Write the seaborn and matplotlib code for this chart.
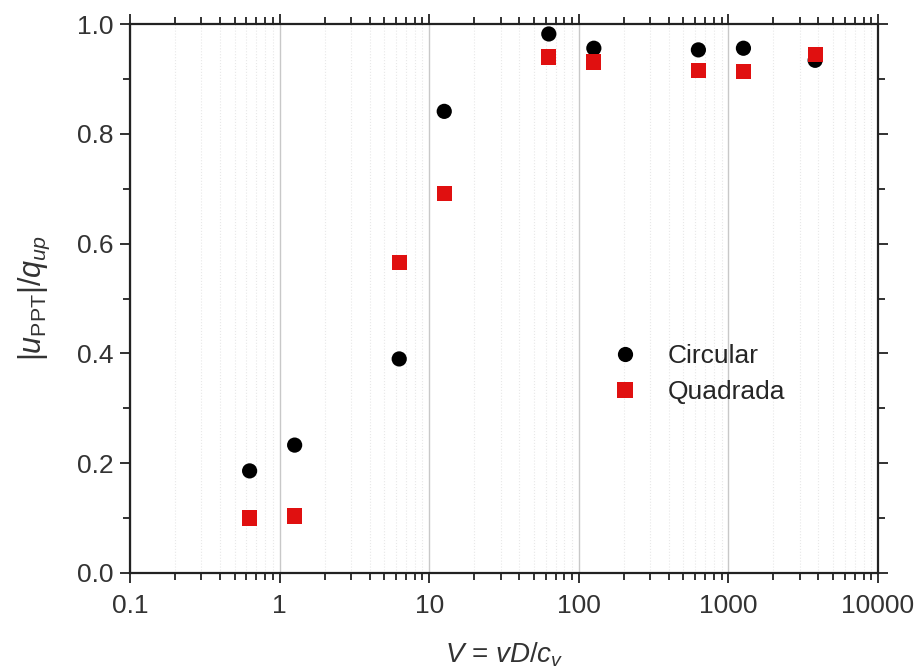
import numpy as np
import pandas as pd
import matplotlib
matplotlib.use("Agg")
import matplotlib.pyplot as plt
from matplotlib.ticker import LogLocator, MultipleLocator, FixedLocator, NullFormatter
import seaborn as sns

# valores
V = [0.63, 1.26, 6.3, 12.6, 63, 126, 630, 1260, 3800]
circular = [0.186, 0.233, 0.390, 0.841, 0.982, 0.956, 0.953, 0.956, 0.934]
quadrada = [0.100, 0.104, 0.565, 0.692, 0.940, 0.931, 0.916, 0.914, 0.944]

df = pd.DataFrame({
    "V": V + V,
    "u": circular + quadrada,
    "Forma": ["Circular"] * len(V) + ["Quadrada"] * len(V),
})

sns.set_style("ticks")
plt.rcParams["font.family"] = ["Liberation Sans", "DejaVu Sans"]
plt.rcParams["mathtext.fontset"] = "custom"
plt.rcParams["mathtext.rm"] = "Liberation Sans"
plt.rcParams["mathtext.it"] = "Liberation Sans:italic"

fig = plt.figure(figsize=(9.19, 6.69), dpi=100)
ax = fig.add_axes([0.1415, 0.1435, 0.8139, 0.8205])

sns.scatterplot(data=df, x="V", y="u", hue="Forma", style="Forma",
                markers={"Circular": "o", "Quadrada": "s"},
                palette={"Circular": "black", "Quadrada": "#e01010"},
                s=120, linewidth=0, ax=ax, zorder=3)

ax.set_xscale("log")
ax.set_xlim(0.1, 10000)
ax.set_ylim(0, 1.0)
ax.xaxis.set_major_locator(FixedLocator([0.1, 1, 10, 100, 1000, 10000]))
ax.set_xticklabels(["0.1", "1", "10", "100", "1000", "10000"])
ax.xaxis.set_minor_locator(LogLocator(base=10, subs=np.arange(2, 10)))
ax.xaxis.set_minor_formatter(NullFormatter())
ax.yaxis.set_major_locator(MultipleLocator(0.2))
ax.yaxis.set_minor_locator(MultipleLocator(0.1))
ax.set_yticklabels([f"{t:.1f}" for t in ax.get_yticks()])

ax.grid(True, which="major", axis="x", color="#c8c8c8", lw=1.0)
ax.grid(True, which="minor", axis="x", color="#e8e8e8", lw=0.8, ls=":")
ax.set_axisbelow(True)

for sp in ax.spines.values():
    sp.set_linewidth(1.6)
    sp.set_color("#222222")
ax.tick_params(which="both", direction="out", top=True, right=True,
               labeltop=False, labelright=False, width=1.3, colors="#222222",
               labelcolor="#333333", labelsize=19)
ax.tick_params(which="major", length=7, pad=5)
ax.tick_params(axis="x", which="major", pad=8)
ax.tick_params(which="minor", length=5)

ax.set_xlabel(r"$V$ = $vD/c_v$", fontsize=20, color="#333333", labelpad=16)
ax.set_ylabel(r"$|u_{\mathrm{PPT}}|/q_{up}$", fontsize=22, color="#333333", labelpad=18)

leg = ax.legend(loc="center left", bbox_to_anchor=(0.595, 0.362), frameon=False,
                fontsize=19, markerscale=1.0, handletextpad=0.6, labelspacing=0.45,
                title=None)

fig.savefig("out.png", dpi=100)
